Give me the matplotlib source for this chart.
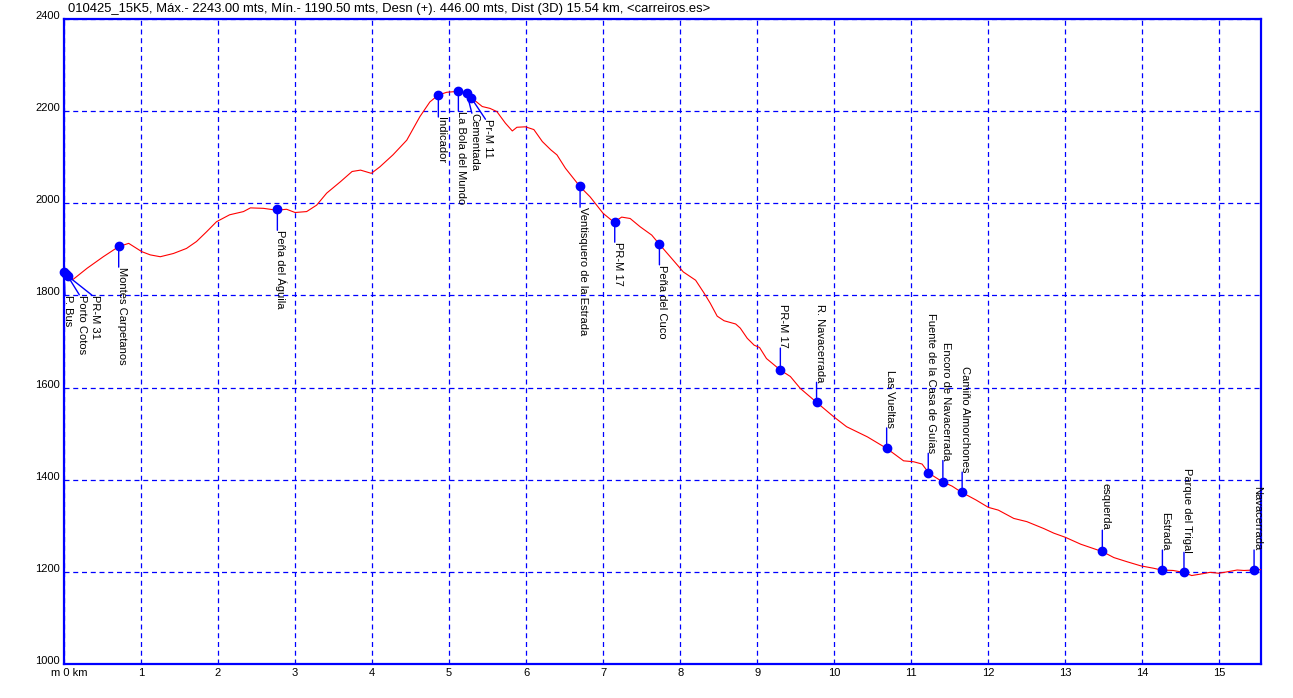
import matplotlib
matplotlib.use("Agg")
import matplotlib.pyplot as plt
from matplotlib.transforms import ScaledTranslation

plt.rcParams['font.family'] = ['Liberation Sans', 'DejaVu Sans']

# elevation profile (km, m)
dist_km = [0.00, 0.05, 0.12, 0.30, 0.51, 0.71, 0.84, 1.01, 1.12, 1.25, 1.42, 1.59,
           1.72, 1.85, 1.98, 2.15, 2.33, 2.42, 2.59, 2.76, 2.89, 3.00, 3.15, 3.28,
           3.41, 3.59, 3.74, 3.85, 3.99, 4.10, 4.27, 4.45, 4.62, 4.75, 4.86, 4.97,
           5.12, 5.23, 5.29, 5.43, 5.53, 5.62, 5.73, 5.82, 5.88, 5.99, 6.10, 6.21,
           6.32, 6.40, 6.51, 6.70, 6.83, 7.00, 7.14, 7.24, 7.35, 7.48, 7.63, 7.73,
           7.87, 8.04, 8.20, 8.31, 8.39, 8.48, 8.57, 8.72, 8.78, 8.87, 8.96, 9.03,
           9.12, 9.30, 9.43, 9.56, 9.77, 9.99, 10.16, 10.43, 10.68, 10.77, 10.90,
           11.03, 11.14, 11.23, 11.40, 11.53, 11.65, 11.84, 12.00, 12.13, 12.33,
           12.50, 12.72, 12.85, 13.00, 13.20, 13.48, 13.63, 13.80, 13.98, 14.14,
           14.25, 14.40, 14.53, 14.64, 14.75, 14.88, 14.99, 15.10, 15.23, 15.32,
           15.45, 15.54]
elev_m = [1851, 1845, 1835, 1859, 1884, 1906, 1913, 1895, 1888, 1884, 1891, 1902,
          1917, 1938, 1960, 1975, 1982, 1990, 1989, 1985, 1987, 1980, 1982, 1996,
          2022, 2047, 2069, 2072, 2065, 2079, 2105, 2137, 2188, 2220, 2235, 2241,
          2243, 2239, 2229, 2210, 2206, 2199, 2174, 2157, 2165, 2166, 2160, 2134,
          2116, 2105, 2076, 2036, 2014, 1978, 1959, 1970, 1967, 1949, 1931, 1911,
          1884, 1851, 1833, 1805, 1783, 1755, 1745, 1738, 1729, 1707, 1692, 1687,
          1663, 1638, 1624, 1598, 1568, 1537, 1515, 1493, 1468, 1457, 1441,
          1439, 1434, 1414, 1396, 1386, 1373, 1356, 1340, 1334, 1316,
          1309, 1294, 1284, 1275, 1260, 1244, 1231, 1222, 1213, 1208,
          1204, 1203, 1199, 1192, 1195, 1199, 1197, 1200, 1204, 1203,
          1204, 1205]

# waypoints
wp_names = ["P. Bus", "Porto Cotos", "PR-M 31", "Montes Carpetanos", "Peña del Águila",
            "Indicador", "La Bola del Mundo", "Cementada", "Pr-M 11",
            "Ventisquero de la Estrada", "PR-M 17", "Peña del Cuco", "PR-M 17",
            "R. Navacerrada", "Las Vueltas", "Fuente de la Casa de Guías",
            "Encoro de Navacerrada", "Camiño Almorchones", "esquerda", "Estrada",
            "Parque del Trigal", "Navacerrada"]
wp_km = [0.00, 0.03, 0.05, 0.71, 2.77, 4.86, 5.12, 5.23, 5.29, 6.70, 7.15, 7.73,
         9.30, 9.77, 10.68, 11.22, 11.41, 11.66, 13.48, 14.26, 14.54, 15.45]
wp_elev = [1851, 1847, 1842, 1907, 1987, 2235, 2243, 2239, 2228, 2037, 1959, 1912,
           1638, 1568, 1469, 1414, 1394, 1373, 1245, 1204, 1199, 1204]

# leader end offsets in pixels (dx right, dy down; negative dy = label above)
lead_dx = [1, 13, 24, 0, 0, 0, 0, 5, 14, 0, 0, 0,
           0, 0, 0, 0, 0, 0, 0, 0, 0, 0]
lead_dy = [23, 21, 19, 21, 21, 22, 20, 20, 21, 21, 20, 21,
           -22, -20, -20, -20, -22, -20, -21, -20, -20, -20]

fig = plt.figure(figsize=(12.93, 6.98), dpi=100)
ax = fig.add_axes([64 / 1293, 34 / 698, (1261 - 64) / 1293, (664 - 19) / 698])

ax.set_xlim(0, 15.54)
ax.set_ylim(1000, 2400)
ax.set_xticks(range(0, 16))
ax.set_xticklabels(["m 0 km"] + [str(i) for i in range(1, 16)])
ax.set_yticks(range(1000, 2401, 200))
ax.tick_params(length=0, labelsize=8, pad=3)
for lab in ax.get_yticklabels():
    lab.set_verticalalignment('baseline')
first = ax.get_xticklabels()[0]
first.set_transform(first.get_transform() + ScaledTranslation(5 / 100, 0, fig.dpi_scale_trans))

ax.grid(True, color='blue', linestyle=(0, (4, 3)), linewidth=0.9)
for s in ax.spines.values():
    s.set_color('blue')
    s.set_linewidth(1.6)

ax.plot(dist_km, elev_m, color='red', lw=0.8, zorder=3)

for name, x, y, dx, dy in zip(wp_names, wp_km, wp_elev, lead_dx, lead_dy):
    va = 'top' if dy > 0 else 'bottom'
    # leader
    ax.annotate("", xy=(x, y), xytext=(dx * 0.72, -dy * 0.72),
                textcoords='offset points', annotation_clip=False,
                arrowprops=dict(arrowstyle='-', color='blue', lw=1,
                                shrinkA=0, shrinkB=0))
    # label, glyphs start right at the leader end
    ax.annotate(name, xy=(x, y), xytext=((dx - 2) * 0.72, -dy * 0.72),
                textcoords='offset points', rotation=-90, ha='left', va=va,
                fontsize=8, annotation_clip=False)
    ax.plot(x, y, 'o', color='blue', ms=6, zorder=4, clip_on=False)

fig.text(68 / 1293, 1 - 9 / 698,
         "010425_15K5, Máx.- 2243.00 mts, Mín.- 1190.50 mts, Desn (+). 446.00 mts, "
         "Dist (3D) 15.54 km, <carreiros.es>",
         ha='left', va='center', fontsize=9.4)

fig.savefig("out.png", dpi=100)
